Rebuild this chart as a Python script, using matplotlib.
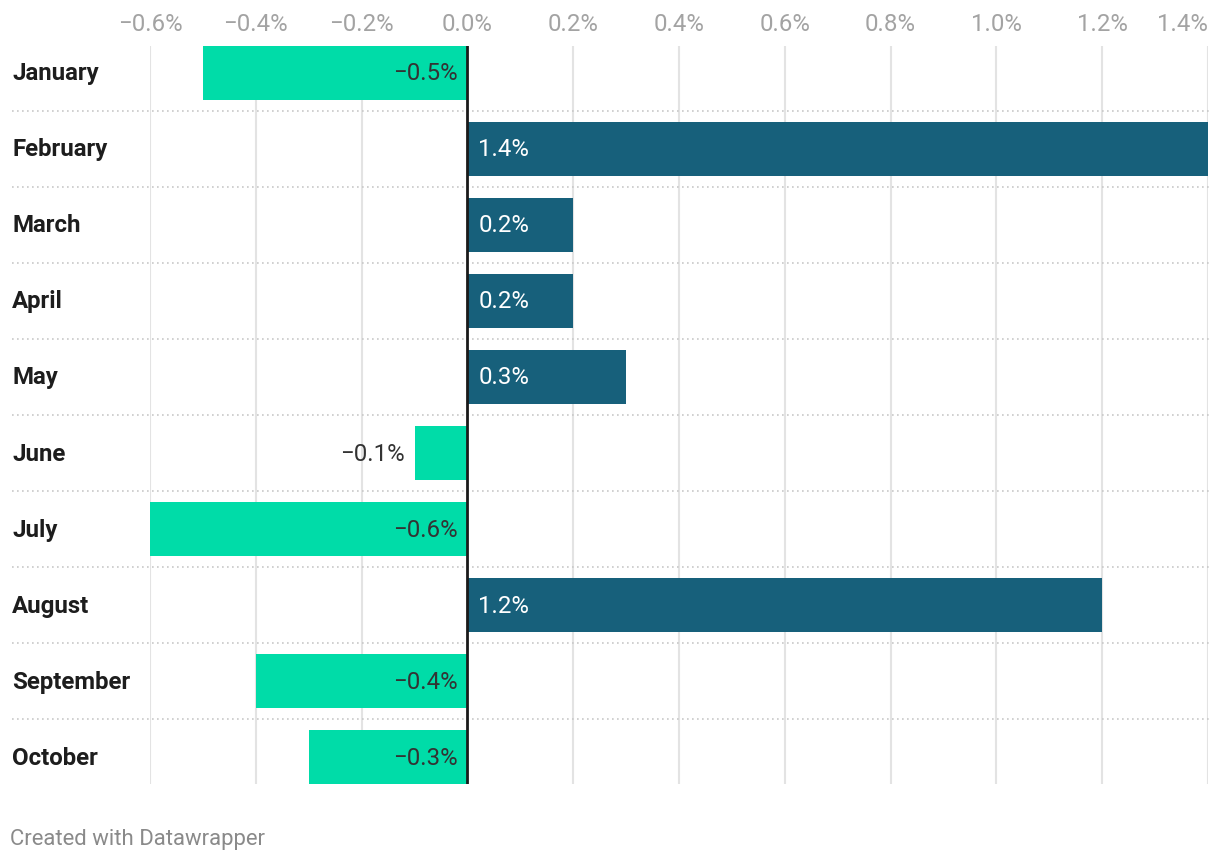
import matplotlib.pyplot as plt
import numpy as np

months = ['January', 'February', 'March', 'April', 'May', 'June',
          'July', 'August', 'September', 'October']
values = [-0.5, 1.4, 0.2, 0.2, 0.3, -0.1, -0.6, 1.2, -0.4, -0.3]
xticks = [-0.6, -0.4, -0.2, 0.0, 0.2, 0.4, 0.6, 0.8, 1.0, 1.2, 1.4]

green = '#00dca8'
teal = '#17607b'

plt.rcParams['font.family'] = ['Roboto', 'DejaVu Sans']

W, H = 1220, 860
fig = plt.figure(figsize=(W / 100, H / 100), dpi=100)
# axes spans -0.6 .. 1.4 horizontally, first bar top to last bar bottom vertically
ax = fig.add_axes([150 / W, (H - 784) / H, (1208 - 150) / W, (784 - 46) / H])

bh = 0.71
fs = 17.3
y = np.arange(len(months))
colors = [teal if v > 0 else green for v in values]
ax.barh(y, values, height=bh, color=colors, zorder=2)

ax.set_xlim(-0.6, 1.4)
ax.set_ylim(len(months) - 1 + bh / 2, -bh / 2)

# grid
for t in xticks:
    if t != 0:
        ax.axvline(t, color='#e3e3e3', lw=1.5, zorder=1)
ax.axvline(0, color='#1a1a1a', lw=2, zorder=3)

# dotted row separators
for i in range(len(months) - 1):
    ax.plot([-0.1304, 1.002], [i + 0.5, i + 0.5], transform=ax.get_yaxis_transform(),
            color='#c8c8c8', lw=1.2, ls=(0, (1, 2)), clip_on=False, zorder=1)

# month labels
for i, m in enumerate(months):
    ax.annotate(m, (-0.1304, i), xycoords=ax.get_yaxis_transform(), xytext=(0, -1),
                textcoords='offset pixels', ha='left', va='center',
                fontsize=fs, fontweight='bold', color='#1d1d1d')

# value labels
for i, v in enumerate(values):
    lab = ('\u2212' if v < 0 else '') + f'{abs(v):.1f}%'
    if v > 0:
        ax.annotate(lab, (0, i), xytext=(11, -1), textcoords='offset pixels',
                    ha='left', va='center', fontsize=fs, color='white', zorder=4)
    elif abs(v) >= 0.2:
        ax.annotate(lab, (0, i), xytext=(-10, -1), textcoords='offset pixels',
                    ha='right', va='center', fontsize=fs, color='#333333', zorder=4)
    else:
        ax.annotate(lab, (v, i), xytext=(-10, -1), textcoords='offset pixels',
                    ha='right', va='center', fontsize=fs, color='#333333', zorder=4)

ax.xaxis.tick_top()
ax.set_xticks(xticks)
ax.set_xticklabels([('\u2212' if t < 0 else '') + f'{abs(t):.1f}%' for t in xticks])
ax.tick_params(axis='x', length=0, pad=7, labelsize=fs, labelcolor='#a3a3a3')
ax.get_xticklabels()[-1].set_ha('right')
ax.set_yticks([])
for s in ax.spines.values():
    s.set_visible(False)

fig.text(10 / W, 1 - 839 / H, 'Created with Datawrapper', ha='left', va='center',
         fontsize=15.9, color='#8a8a8a')

fig.savefig('out.png', dpi=100)
